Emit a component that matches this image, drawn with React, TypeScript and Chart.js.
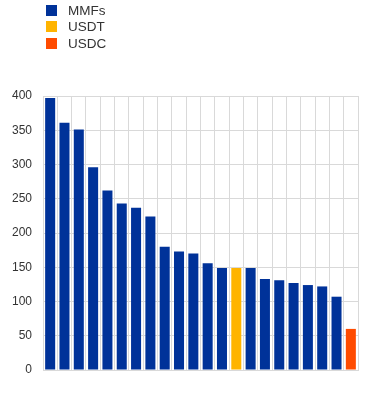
import React, { useEffect, useRef } from "react";
import { Chart, registerables } from "chart.js";

Chart.register(...registerables);

const categories: string[] = Array.from({ length: 22 }, (_, i) => `Fund ${i + 1}`);
const values: number[] = [397, 361, 351, 296, 262, 243, 237, 224, 180, 173, 170, 156, 149, 149, 149, 133, 131, 127, 124, 122, 107, 60];
const kinds: string[] = ["MMFs", "MMFs", "MMFs", "MMFs", "MMFs", "MMFs", "MMFs", "MMFs", "MMFs", "MMFs", "MMFs", "MMFs", "MMFs", "USDT", "MMFs", "MMFs", "MMFs", "MMFs", "MMFs", "MMFs", "MMFs", "USDC"];
const legendLabels: string[] = ["MMFs", "USDT", "USDC"];
const legendColors: string[] = ["#003299", "#FFB400", "#FF4B00"];
const yTicks: number[] = [0, 50, 100, 150, 200, 250, 300, 350, 400];

export default function App() {
  const ref = useRef<HTMLCanvasElement | null>(null);
  useEffect(() => {
    if (!ref.current) return;
    const colorFor = (k: string) => legendColors[legendLabels.indexOf(k)];
    const chart = new Chart(ref.current, {
      type: "bar",
      data: {
        labels: categories,
        datasets: [
          {
            data: values,
            backgroundColor: kinds.map(colorFor),
            categoryPercentage: 1,
            barPercentage: 0.7,
          },
        ],
      },
      options: {
        animation: false,
        responsive: false,
        maintainAspectRatio: false,
        layout: { padding: { top: 96, right: 14, bottom: 28, left: 0 } },
        plugins: { legend: { display: false }, tooltip: { enabled: false } },
        scales: {
          x: {
            grid: { color: "#d9d9d9", offset: true, drawTicks: false },
            border: { color: "#d9d9d9" },
            ticks: { display: false },
            afterFit: (s: any) => { s.height = 0; },
          },
          y: {
            min: 0,
            max: 400,
            afterBuildTicks: (s: any) => { s.ticks = yTicks.map((v) => ({ value: v })); },
            grid: { color: "#d9d9d9", drawTicks: false },
            border: { color: "#d9d9d9" },
            ticks: {
              padding: 11,
              color: "#333333",
              font: { family: "Liberation Sans, Arial, sans-serif", size: 12 },
            },
            afterFit: (s: any) => { s.width = 43; },
          },
        },
      },
    });
    return () => chart.destroy();
  }, []);

  return (
    <div style={{ position: "fixed", left: 0, top: 0, width: 372, height: 398, background: "#fff" }}>
      <canvas ref={ref} width={372} height={398} style={{ position: "absolute", left: 0, top: 0 }} />
      {legendLabels.map((l, i) => (
        <div
          key={l}
          style={{
            position: "absolute",
            left: 46,
            top: 2 + i * 16.5,
            height: 16,
            display: "flex",
            alignItems: "center",
            fontFamily: "Liberation Sans, Arial, sans-serif",
            fontSize: 13.5,
            color: "#333333",
          }}
        >
          <span style={{ display: "inline-block", width: 11, height: 11, background: legendColors[i], marginRight: 11 }} />
          <span>{l}</span>
        </div>
      ))}
    </div>
  );
}
